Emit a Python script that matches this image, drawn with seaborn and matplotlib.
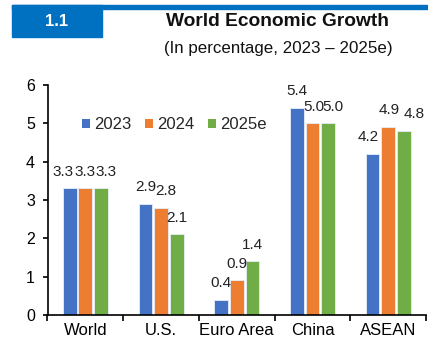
import matplotlib
matplotlib.use("Agg")
import matplotlib.pyplot as plt
from matplotlib.patches import Rectangle
import seaborn as sns
import pandas as pd

regions = ["World", "U.S.", "Euro Area", "China", "ASEAN"]
years = ["2023", "2024", "2025e"]
growth_2023 = [3.3, 2.9, 0.4, 5.4, 4.2]
growth_2024 = [3.3, 2.8, 0.9, 5.0, 4.9]
growth_2025e = [3.3, 2.1, 1.4, 5.0, 4.8]
yticks = [0, 1, 2, 3, 4, 5, 6]

# horizontal nudges (pixels) that keep neighbouring value labels apart
label_nudge = [
    [-6.5, 0, 0, 0, -4.5],
    [0, 5, 0, 1, 1],
    [5.5, 0, 0, 5, 10],
]

df = pd.DataFrame({
    "region": regions * 3,
    "year": [y for y in years for _ in regions],
    "growth": growth_2023 + growth_2024 + growth_2025e,
})

sns.set_theme(style="white")
plt.rcParams["font.family"] = ["Liberation Sans", "DejaVu Sans"]

fig = plt.figure(figsize=(4.28, 3.44), dpi=100)
ax = fig.add_axes([47.5 / 428, 0.0843, 378.5 / 428, 0.6687])

palette = ["#4472C4", "#ED7D31", "#70AD47"]
sns.barplot(data=df, x="region", y="growth", hue="year", order=regions,
            hue_order=years, palette=palette, width=0.62, gap=0.12,
            saturation=1, edgecolor="#e8eef8", linewidth=0.6, ax=ax)

px = 72 / fig.dpi
for cont, nudges in zip(ax.containers, label_nudge):
    anns = ax.bar_label(cont, fmt="%.1f", padding=7, fontsize=11,
                        color="#222222")
    for ann, dx in zip(anns, nudges):
        ann.xyann = (dx * px, 7)

ax.set_ylim(0, 6)
ax.set_yticks(yticks)
ax.set_xlim(-0.5, len(regions) - 0.5)
ax.set_xlabel("")
ax.set_ylabel("")
ax.tick_params(axis="y", labelsize=11.5, length=3.6, width=1.2,
               direction="out", left=True, colors="black", pad=5.5)
ax.tick_params(axis="x", which="major", labelsize=12, length=0, pad=6,
               colors="black")
ax.set_xticks([i - 0.5 for i in range(len(regions) + 1)], minor=True)
ax.tick_params(axis="x", which="minor", length=4, width=1.2, bottom=True,
               direction="out", color="black")
for side in ["top", "right"]:
    ax.spines[side].set_visible(False)
for side in ["left", "bottom"]:
    ax.spines[side].set_color("black")
    ax.spines[side].set_linewidth(1.2)

leg = ax.legend(loc="center", bbox_to_anchor=(0.335, 0.826), ncol=3,
                frameon=False, fontsize=12, handlelength=0.48,
                handleheight=0.48, handletextpad=0.24, columnspacing=0.84,
                borderaxespad=0)
for h in leg.legend_handles:
    h.set_edgecolor("none")

# header band with section number
fig.patches.append(Rectangle((12 / 428, 1 - 9 / 344), 416 / 428, 4 / 344,
                             transform=fig.transFigure, color="#0070C0",
                             zorder=0))
fig.patches.append(Rectangle((12 / 428, 1 - 37 / 344), 90 / 428, 32 / 344,
                             transform=fig.transFigure, color="#0070C0",
                             zorder=0))
fig.text(57 / 428, 1 - 21 / 344, "1.1", color="white", fontsize=12,
         fontweight="bold", ha="center", va="center")
fig.text(277 / 428, 1 - 22 / 344, "World Economic Growth", fontsize=13.8,
         fontweight="bold", ha="center", va="center", color="#111111")
fig.text(278 / 428, 1 - 49 / 344, "(In percentage, 2023 \u2013 2025e)",
         fontsize=12.2, ha="center", va="center", color="#111111")

fig.savefig("out.png", dpi=100)
